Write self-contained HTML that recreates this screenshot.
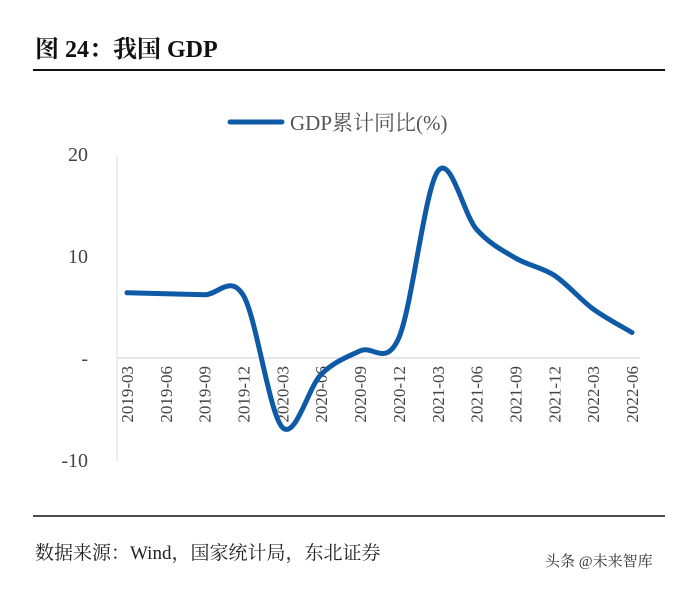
<!DOCTYPE html>
<html><head><meta charset="utf-8"><style>
body{margin:0;background:#fff;width:700px;height:584px;overflow:hidden}
svg text{font-family:"Liberation Serif","Noto Serif CJK SC",serif}
</style></head><body>
<svg width="700" height="584" xmlns="http://www.w3.org/2000/svg">
<text x="35" y="57" font-size="24" font-weight="bold" fill="#111">图 24：我国 GDP</text>
<line x1="33" y1="70" x2="665" y2="70" stroke="#111" stroke-width="2"/>
<g>
<line x1="230" y1="122" x2="282" y2="122" stroke="#0e5aa7" stroke-width="5" stroke-linecap="round"/>
<text x="290" y="130" font-size="21" fill="#555">GDP累计同比(%)</text>
</g>
<line x1="117" y1="155" x2="117" y2="462" stroke="#ddd" stroke-width="1"/>
<line x1="117" y1="358" x2="640" y2="358" stroke="#ccc" stroke-width="1"/>
<g id="yt"></g><g id="xt"></g>
<path id="ln" fill="none" stroke="#0e5aa7" stroke-width="5" stroke-linejoin="round" stroke-linecap="round"/>
<line x1="33" y1="516" x2="665" y2="516" stroke="#111" stroke-width="1.5"/>
<text x="35" y="559" font-size="19" fill="#222">数据来源：Wind，国家统计局，东北证券</text>
<text x="545" y="566" font-size="15" fill="#333" font-family="Liberation Sans,Noto Sans CJK SC,sans-serif">头条 @未来智库</text>
</svg>
<script>
const categories=["2019-03","2019-06","2019-09","2019-12","2020-03","2020-06","2020-09","2020-12","2021-03","2021-06","2021-09","2021-12","2022-03","2022-06"];
const values=[6.4,6.3,6.2,6.1,-6.8,-1.6,0.7,2.0,18.3,12.6,9.8,8.1,4.8,2.5];
const yTicks=[20,10,0,-10];
const yTickLabels=["20","10","-","-10"];
const NS="http://www.w3.org/2000/svg";
const x=i=>127+i*(632-127)/(categories.length-1);
const y=v=>358-v*10.2;
const yt=document.getElementById('yt');
yTicks.forEach((t,i)=>{const e=document.createElementNS(NS,'text');


e.setAttribute('x',88);e.setAttribute('y',y(t)+7);e.setAttribute('text-anchor','end');e.setAttribute('font-size','20');e.setAttribute('fill','#444');e.textContent=yTickLabels[i];yt.appendChild(e);});
const xt=document.getElementById('xt');
categories.forEach((c,i)=>{const e=document.createElementNS(NS,'text');


const px=x(i)+6,py=366;e.setAttribute('x',px);e.setAttribute('y',py);e.setAttribute('text-anchor','end');e.setAttribute('font-size','17');e.setAttribute('fill','#444');e.setAttribute('transform',`rotate(-90 ${px} ${py})`);e.textContent=c;xt.appendChild(e);});
const P=values.map((v,i)=>[x(i),y(v)]);
let d=`M${P[0][0]},${P[0][1]}`;
for(let i=0;i<P.length-1;i++){const p0=P[Math.max(i-1,0)],p1=P[i],p2=P[i+1],p3=P[Math.min(i+2,P.length-1)];
d+=` C${p1[0]+(p2[0]-p0[0])/6},${p1[1]+(p2[1]-p0[1])/6} ${p2[0]-(p3[0]-p1[0])/6},${p2[1]-(p3[1]-p1[1])/6} ${p2[0]},${p2[1]}`;}
document.getElementById('ln').setAttribute('d',d);
</script>
</body></html>
